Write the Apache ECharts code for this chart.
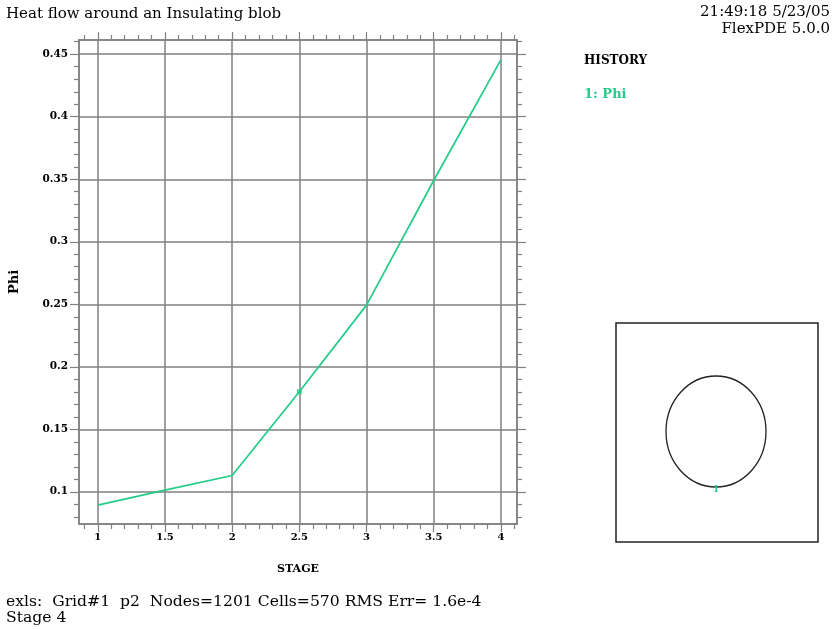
<!DOCTYPE html>
<html>
<head>
<meta charset="utf-8">
<script src="https://cdn.jsdelivr.net/npm/echarts@6/dist/echarts.min.js"></script>
<style>
html,body{margin:0;padding:0;background:#fff;}
#chart{width:834px;height:629px;}
</style>
</head>
<body>
<div id="chart"></div>
<script>
// ---- data ----
const stages = [1, 1.5, 2, 2.5, 3, 3.5, 4];
const phi = [0.0893, 0.1013, 0.1130, 0.1800, 0.2493, 0.3490, 0.4455];
const markerStage = [2.5];
const markerPhi = [0.180];
const xMajorTicks = [1, 1.5, 2, 2.5, 3, 3.5, 4];
const xMinorTicks = [0.9,1.1,1.2,1.3,1.4,1.6,1.7,1.8,1.9,2.1,2.2,2.3,2.4,2.6,2.7,2.8,2.9,3.1,3.2,3.3,3.4,3.6,3.7,3.8,3.9,4.1];
const yMajorTicks = [0.1, 0.15, 0.2, 0.25, 0.3, 0.35, 0.4, 0.45];
const yMinorTicks = [0.08,0.09,0.11,0.12,0.13,0.14,0.16,0.17,0.18,0.19,0.21,0.22,0.23,0.24,0.26,0.27,0.28,0.29,0.31,0.32,0.33,0.34,0.36,0.37,0.38,0.39,0.41,0.42,0.43,0.44,0.46];
const xRange = [0.86, 4.12];
const yRange = [0.0742, 0.4614];

const GREEN = '#22cc88';
const GRAY = '#808080';
const SERIF = '"DejaVu Serif","Liberation Serif",serif';

function mkX(pos, ticks, len, showLabel, showSplit) {
  return {
    type: 'value', gridIndex: 0, position: pos,
    min: xRange[0], max: xRange[1],
    axisLine: {show: true, onZero: false, lineStyle: {color: GRAY, width: 1.5}},
    axisTick: {show: true, inside: false, length: len, customValues: ticks, lineStyle: {color: GRAY, width: 1.2}},
    axisLabel: {show: showLabel, customValues: ticks, margin: 8, color: '#000',
      fontFamily: SERIF, fontSize: 10, fontWeight: 'bold'},
    splitLine: {show: showSplit, lineStyle: {color: GRAY, width: 1.5}},
    name: showLabel ? 'STAGE' : '', nameLocation: 'middle', nameGap: 40,
    nameTextStyle: {fontFamily: SERIF, fontSize: 11, fontWeight: 'bold', color: '#000'}
  };
}
function mkY(pos, ticks, len, showLabel, showSplit) {
  return {
    type: 'value', gridIndex: 0, position: pos,
    min: yRange[0], max: yRange[1],
    axisLine: {show: true, onZero: false, lineStyle: {color: GRAY, width: 1.5}},
    axisTick: {show: true, inside: false, length: len, customValues: ticks, lineStyle: {color: GRAY, width: 1.2}},
    axisLabel: {show: showLabel, customValues: ticks, margin: 11, color: '#000',
      fontFamily: SERIF, fontSize: 10.5, fontWeight: 'bold'},
    splitLine: {show: showSplit, lineStyle: {color: GRAY, width: 1.5}},
    name: showLabel ? 'Phi' : '', nameLocation: 'middle', nameGap: 58, nameRotate: 90,
    nameTextStyle: {fontFamily: SERIF, fontSize: 13, fontWeight: 'bold', color: '#000'}
  };
}

const chart = echarts.init(document.getElementById('chart'));
chart.setOption({
  animation: false,
  backgroundColor: '#fff',
  grid: [{left: 77, right: 317, top: 40, bottom: 105, containLabel: false}],
  xAxis: [
    mkX('bottom', xMajorTicks, 8, true, true),
    mkX('bottom', xMinorTicks, 5, false, false),
    mkX('top', xMajorTicks, 8, false, false),
    mkX('top', xMinorTicks, 5, false, false)
  ],
  yAxis: [
    mkY('left', yMajorTicks, 9, true, true),
    mkY('left', yMinorTicks, 5, false, false),
    mkY('right', yMajorTicks, 9, false, false),
    mkY('right', yMinorTicks, 5, false, false)
  ],
  series: [
    {
      type: 'line', xAxisIndex: 0, yAxisIndex: 0,
      data: stages.map((s, i) => [s, phi[i]]),
      showSymbol: false, symbol: 'none',
      lineStyle: {color: GREEN, width: 1.7},
      itemStyle: {color: GREEN}
    },
    {
      type: 'scatter', xAxisIndex: 0, yAxisIndex: 0,
      data: markerStage.map((s, i) => [s, markerPhi[i]]),
      symbol: 'rect', symbolSize: 5,
      itemStyle: {color: GREEN}
    }
  ],
  graphic: [
    {type: 'text', left: 6, top: 7, style: {text: 'Heat flow around an Insulating blob', font: '15px ' + SERIF, fill: '#000'}},
    {type: 'text', right: 4, top: 5, style: {text: '21:49:18 5/23/05', font: '15px ' + SERIF, fill: '#000', textAlign: 'right'}},
    {type: 'text', right: 4, top: 22, style: {text: 'FlexPDE 5.0.0', font: '15px ' + SERIF, fill: '#000', textAlign: 'right'}},
    {type: 'text', left: 584, top: 55, style: {text: 'HISTORY', font: 'bold 12px ' + SERIF, fill: '#000'}},
    {type: 'text', left: 584, top: 88, style: {text: '1: Phi', font: 'bold 13px ' + SERIF, fill: GREEN}},
    {type: 'text', left: 6, top: 594, style: {text: 'exls:  Grid#1  p2  Nodes=1201 Cells=570 RMS Err= 1.6e-4', font: '15.6px ' + SERIF, fill: '#000'}},
    {type: 'text', left: 6, top: 610, style: {text: 'Stage 4', font: '15.6px ' + SERIF, fill: '#000'}},
    {type: 'rect', shape: {x: 616, y: 323, width: 202, height: 219}, style: {fill: 'none', stroke: '#222', lineWidth: 1.5}},
    {type: 'ellipse', shape: {cx: 716, cy: 431.5, rx: 50, ry: 55.5}, style: {fill: 'none', stroke: '#222', lineWidth: 1.3}},
    {type: 'text', left: 713, top: 485, style: {text: '1', font: 'bold 9px ' + SERIF, fill: GREEN}}
  ]
});
</script>
</body>
</html>
